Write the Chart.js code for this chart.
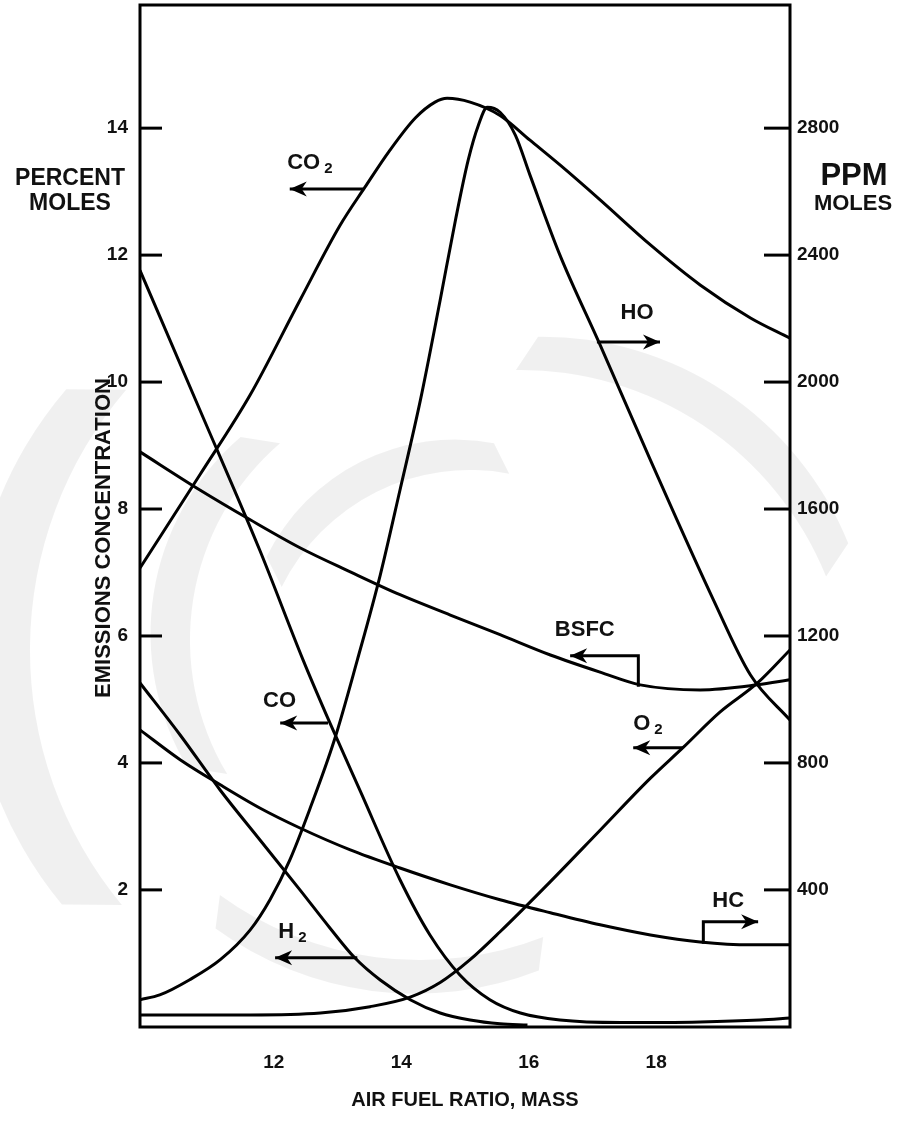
<!DOCTYPE html>
<html>
<head>
<meta charset="utf-8">
<script src="https://cdn.jsdelivr.net/npm/chart.js@4.4.1/dist/chart.umd.min.js"></script>
<style>
  html, body { margin: 0; padding: 0; background: #fff; }
  #wrap { width: 899px; height: 1121px; position: relative; }
</style>
</head>
<body>
<div id="wrap"><canvas id="chart" width="899" height="1121"></canvas></div>
<script>
// Air–fuel ratio (mass) at which each curve is sampled
const afrCO2  = [9.9, 10.84, 11.63, 12.41, 13.04, 13.43, 13.82, 14.22, 14.53, 14.72, 15.08, 15.55, 16.02, 16.49, 17.12, 17.91, 18.69, 19.48, 20.1];
const pctCO2  = [7.07, 8.54, 9.80, 11.29, 12.47, 13.07, 13.65, 14.16, 14.41, 14.47, 14.41, 14.20, 13.81, 13.42, 12.87, 12.16, 11.53, 11.01, 10.69];

const afrHO   = [9.9, 10.21, 10.68, 11.16, 11.63, 11.94, 12.25, 12.56, 12.95, 13.31, 13.67, 13.98, 14.30, 14.61, 14.85, 15.05, 15.21, 15.35, 15.55, 15.79, 16.02, 16.49, 17.12, 17.91, 18.9, 19.48, 20.1];
const ppmHO   = [54, 69, 117, 180, 274, 369, 494, 652, 872, 1124, 1392, 1660, 1943, 2258, 2510, 2699, 2809, 2866, 2850, 2778, 2652, 2400, 2117, 1754, 1313, 1077, 935];

const afrBSFC = [9.9, 10.84, 11.63, 12.41, 13.2, 13.98, 14.77, 15.55, 16.34, 17.12, 17.75, 18.69, 19.59, 20.1];
const valBSFC = [8.90, 8.30, 7.83, 7.39, 7.01, 6.65, 6.33, 6.02, 5.70, 5.43, 5.23, 5.15, 5.23, 5.31];

const afrCO   = [9.9, 10.84, 11.78, 12.46, 12.88, 13.35, 13.98, 14.45, 14.92, 15.39, 15.87, 16.49, 17.44, 18.69, 19.63, 20.1];
const pctCO   = [11.76, 9.56, 7.35, 5.62, 4.63, 3.57, 2.16, 1.29, 0.66, 0.27, 0.06, -0.05, -0.09, -0.08, -0.05, -0.02];

const afrH2   = [9.9, 10.53, 11.16, 11.78, 12.41, 12.88, 13.27, 13.67, 14.14, 14.61, 15.08, 15.55, 15.98];
const pctH2   = [5.26, 4.44, 3.57, 2.79, 2.0, 1.40, 0.93, 0.58, 0.27, 0.06, -0.05, -0.11, -0.13];

const afrHC   = [9.9, 10.53, 11.16, 11.78, 12.41, 13.2, 13.98, 14.77, 15.55, 16.34, 17.12, 17.91, 18.69, 19.48, 20.1];
const ppmHC   = [904, 810, 731, 658, 595, 526, 469, 416, 369, 328, 290, 258, 236, 227, 227];

const afrO2   = [9.9, 11.63, 12.73, 13.51, 14.14, 14.61, 15.08, 15.55, 16.34, 17.12, 17.91, 18.42, 19.0, 19.59, 20.1];
const pctO2   = [0.03, 0.03, 0.06, 0.16, 0.31, 0.54, 0.90, 1.34, 2.13, 2.94, 3.76, 4.24, 4.80, 5.26, 5.78];

// Axis ticks
const xTicks     = [12, 14, 16, 18];
const pctTicks   = [2, 4, 6, 8, 10, 12, 14];
const ppmTicks   = [400, 800, 1200, 1600, 2000, 2400, 2800];

// Curve callouts: text, subscript, text anchor and arrow path (AFR, percent units)
const calloutNames = ['CO2', 'CO', 'H2', 'HO', 'BSFC', 'O2', 'HC'];
const calloutText  = ['CO', 'CO', 'H', 'HO', 'BSFC', 'O', 'HC'];
const calloutSub   = ['2', '', '2', '', '', '2', ''];
const calloutAt    = [[12.21, 13.35], [11.83, 4.88], [12.07, 1.24], [17.44, 10.99], [16.41, 6.0], [17.64, 4.52], [18.88, 1.73]];
const calloutPath  = [
  [[13.40, 13.04], [12.25, 13.04]],
  [[12.85, 4.63], [12.10, 4.63]],
  [[13.31, 0.93], [12.02, 0.93]],
  [[17.07, 10.63], [18.06, 10.63]],
  [[17.72, 5.20], [17.72, 5.69], [16.65, 5.69]],
  [[18.42, 4.24], [17.64, 4.24]],
  [[18.74, 1.15], [18.74, 1.50], [19.60, 1.50]]
];

const FONT = '"Liberation Sans", Arial, Helvetica, sans-serif';
const INK = '#111';

function pts(xs, ys) { return xs.map((x, i) => ({ x: x, y: ys[i] })); }
function curve(label, xs, ys, axis) {
  return {
    label: label, data: pts(xs, ys), yAxisID: axis,
    borderColor: '#000', borderWidth: 3, pointRadius: 0, fill: false,
    cubicInterpolationMode: 'monotone'
  };
}

// Crescent-shaped watermark band between two offset arcs
function crescent(ctx, cx, cy, r, a0, a1, thick) {
  ctx.beginPath();
  ctx.arc(cx, cy, r, a0, a1);
  ctx.arc(cx + thick * Math.cos((a0 + a1) / 2), cy + thick * Math.sin((a0 + a1) / 2), r, a1, a0, true);
  ctx.closePath();
  ctx.fill();
}

const annotate = {
  id: 'annotate',
  beforeDatasetsDraw(chart) {
    const ctx = chart.ctx;
    ctx.save();
    ctx.fillStyle = 'rgba(0,0,0,0.06)';
    crescent(ctx, 430, 650, 400, 2.45, 3.85, 60);
    crescent(ctx, 450, 640, 260, 2.6, 4.0, 40);
    crescent(ctx, 470, 680, 210, 3.6, 4.9, 34);
    crescent(ctx, 520, 700, 330, 4.7, 5.9, 40);
    crescent(ctx, 420, 620, 340, 1.2, 2.2, 34);
    ctx.restore();
  },
  afterDraw(chart) {
    const ctx = chart.ctx;
    const a = chart.chartArea;
    const sx = chart.scales.x, sy = chart.scales.y, sr = chart.scales.y2;
    ctx.save();
    ctx.strokeStyle = '#000';
    ctx.fillStyle = INK;
    ctx.lineWidth = 3;
    ctx.lineCap = 'butt';
    // plot frame
    ctx.strokeRect(a.left, a.top, a.right - a.left, a.bottom - a.top);
    // inward tick marks
    pctTicks.forEach(v => {
      const py = sy.getPixelForValue(v);
      ctx.beginPath(); ctx.moveTo(a.left, py); ctx.lineTo(a.left + 22, py); ctx.stroke();
    });
    ppmTicks.forEach(v => {
      const py = sr.getPixelForValue(v);
      ctx.beginPath(); ctx.moveTo(a.right, py); ctx.lineTo(a.right - 26, py); ctx.stroke();
    });
    // callout arrows and labels
    calloutNames.forEach((name, i) => {
      const path = calloutPath[i].map(p => [sx.getPixelForValue(p[0]), sy.getPixelForValue(p[1])]);
      ctx.lineWidth = 3;
      ctx.beginPath();
      ctx.moveTo(path[0][0], path[0][1]);
      for (let k = 1; k < path.length; k++) ctx.lineTo(path[k][0], path[k][1]);
      ctx.stroke();
      const tip = path[path.length - 1], prev = path[path.length - 2];
      const ang = Math.atan2(tip[1] - prev[1], tip[0] - prev[0]);
      const L = 17, W = 7.5;
      ctx.beginPath();
      ctx.moveTo(tip[0], tip[1]);
      ctx.lineTo(tip[0] - L * Math.cos(ang) - W * Math.sin(ang), tip[1] - L * Math.sin(ang) + W * Math.cos(ang));
      ctx.lineTo(tip[0] - L * 0.7 * Math.cos(ang), tip[1] - L * 0.7 * Math.sin(ang));
      ctx.lineTo(tip[0] - L * Math.cos(ang) + W * Math.sin(ang), tip[1] - L * Math.sin(ang) - W * Math.cos(ang));
      ctx.closePath();
      ctx.fillStyle = '#000';
      ctx.fill();
      const tx = sx.getPixelForValue(calloutAt[i][0]);
      const ty = sy.getPixelForValue(calloutAt[i][1]);
      ctx.fillStyle = INK;
      ctx.textAlign = 'left';
      ctx.textBaseline = 'alphabetic';
      ctx.font = 'bold 22px ' + FONT;
      ctx.fillText(calloutText[i], tx, ty);
      if (calloutSub[i]) {
        const w = ctx.measureText(calloutText[i]).width;
        ctx.font = 'bold 15px ' + FONT;
        ctx.fillText(calloutSub[i], tx + w + 4, ty + 4);
      }
    });
    // axis captions
    ctx.fillStyle = INK;
    ctx.textAlign = 'center';
    ctx.textBaseline = 'alphabetic';
    ctx.font = 'bold 23px ' + FONT;
    ctx.fillText('PERCENT', 70, 185);
    ctx.fillText('MOLES', 70, 210);
    ctx.font = 'bold 31px ' + FONT;
    ctx.fillText('PPM', 854, 185);
    ctx.font = 'bold 22px ' + FONT;
    ctx.fillText('MOLES', 853, 210);
    ctx.save();
    ctx.translate(104, 538);
    ctx.rotate(-Math.PI / 2);
    ctx.textBaseline = 'middle';
    ctx.font = 'bold 22px ' + FONT;
    ctx.fillText('EMISSIONS CONCENTRATION', 0, 0);
    ctx.restore();
    ctx.restore();
  }
};

const tickFont = { family: FONT, size: 19, weight: 'bold' };
const plain = v => String(v);
function noPadV(s, w) { s.width = w; s.paddingTop = 0; s.paddingBottom = 0; }

new Chart(document.getElementById('chart'), {
  type: 'line',
  data: {
    datasets: [
      curve('CO2', afrCO2, pctCO2, 'y'),
      curve('HO', afrHO, ppmHO, 'y2'),
      curve('BSFC', afrBSFC, valBSFC, 'y'),
      curve('CO', afrCO, pctCO, 'y'),
      curve('H2', afrH2, pctH2, 'y'),
      curve('HC', afrHC, ppmHC, 'y2'),
      curve('O2', afrO2, pctO2, 'y')
    ]
  },
  options: {
    responsive: false,
    animation: false,
    devicePixelRatio: 1,
    layout: { padding: { top: 5, left: 0, right: 0, bottom: 0 } },
    plugins: { legend: { display: false }, tooltip: { enabled: false } },
    scales: {
      x: {
        type: 'linear', min: 9.9, max: 20.1,
        afterBuildTicks: s => { s.ticks = xTicks.map(v => ({ value: v })); },
        afterFit: s => { s.height = 94; s.paddingLeft = 0; s.paddingRight = 0; },
        grid: { display: false, drawTicks: false },
        border: { display: false },
        ticks: { font: tickFont, color: INK, padding: 24, maxRotation: 0, autoSkip: false, callback: plain },
        title: { display: true, text: 'AIR FUEL RATIO, MASS', color: INK,
                 font: { family: FONT, size: 20, weight: 'bold' }, padding: { top: 0, bottom: 9 } }
      },
      y: {
        type: 'linear', position: 'left', min: -0.16, max: 15.94,
        afterBuildTicks: s => { s.ticks = pctTicks.map(v => ({ value: v })); },
        afterFit: s => noPadV(s, 140),
        grid: { display: false, drawTicks: false },
        border: { display: false },
        ticks: { font: tickFont, color: INK, padding: 12, callback: plain }
      },
      y2: {
        type: 'linear', position: 'right', min: -32, max: 3188,
        afterBuildTicks: s => { s.ticks = ppmTicks.map(v => ({ value: v })); },
        afterFit: s => noPadV(s, 109),
        grid: { display: false, drawTicks: false },
        border: { display: false },
        ticks: { font: tickFont, color: INK, padding: 7, callback: plain }
      }
    }
  },
  plugins: [annotate]
});
</script>
</body>
</html>
